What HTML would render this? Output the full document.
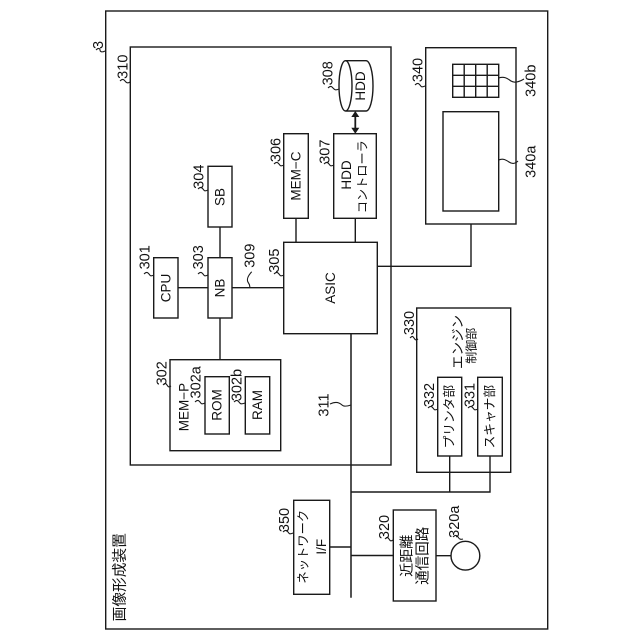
<!DOCTYPE html>
<html><head><meta charset="utf-8"><style>
html,body{margin:0;padding:0;background:#fff}
svg{display:block}
text{font-family:"Liberation Sans","Noto Sans CJK JP",sans-serif;fill:#111;text-anchor:middle;dominant-baseline:central;font-size:13.5px}
.n{font-size:14.5px}
rect,path.l,circle,line{fill:none;stroke:#1a1a1a;stroke-width:1.4}
path.s{fill:none;stroke:#1a1a1a;stroke-width:1.1}
</style></head><body>
<svg width="640" height="640" viewBox="0 0 640 640" xmlns="http://www.w3.org/2000/svg">
<rect x="105.7" y="11" width="442" height="618"/>
<rect x="130.3" y="47" width="260.7" height="418"/>
<rect x="153.7" y="257.7" width="24.3" height="60.3"/>
<rect x="208" y="257.7" width="24" height="60.3"/>
<rect x="208" y="166.3" width="24" height="60.7"/>
<rect x="283.7" y="133.7" width="24.6" height="84.6"/>
<rect x="333.7" y="133.7" width="42.6" height="84.6"/>
<rect x="283.7" y="242.3" width="93.6" height="91.4"/>
<path class="l" d="M345.5 60.7H366A7 25.15 0 0 1 366 111H345.5A6.5 25.15 0 0 1 345.5 60.7A6.5 25.15 0 0 1 345.5 111"/>
<path class="l" style="stroke-width:1.8" d="M355.3 114V131"/>
<path d="M355.3 111l-4 6h8zM355.3 133.7l-4-6h8z" fill="#1a1a1a"/>
<path class="l" d="M178 287.7H208M232 287.7H283.7M220 227V257.7M220 318V359.7M296 218.3V242.3M355.3 218.3V242.3"/>
<path class="l" d="M377.3 266.3H471V224"/>
<rect x="425.7" y="47.7" width="90.3" height="176.3"/>
<rect x="443" y="111.7" width="55.7" height="99.3"/>
<rect x="452.7" y="64.3" width="46" height="33"/>
<path class="l" d="M464.2 64.3V97.3M475.7 64.3V97.3M487.2 64.3V97.3M452.7 75.3H498.7M452.7 86.3H498.7"/>
<rect x="170" y="359.7" width="110.7" height="91"/>
<rect x="205" y="376.7" width="24.3" height="57.3"/>
<rect x="245.3" y="376.7" width="24.4" height="57.3"/>
<path class="l" style="stroke-width:1.5" d="M351 333.7V597.7"/>
<path class="l" d="M351 492H490V456M449.7 492V456"/>
<rect x="416.7" y="308" width="94" height="164.3"/>
<rect x="437.7" y="377.3" width="24" height="78.7"/>
<rect x="477.7" y="377.3" width="24.6" height="78.7"/>
<rect x="293.7" y="500.3" width="36" height="94"/>
<path class="l" d="M329.7 547H351M351 555.5H393.3M436 555.7H451"/>
<rect x="393.3" y="510" width="42.7" height="91"/>
<circle cx="465.4" cy="555.7" r="14.4"/>

<!-- leader squiggles -->
<path class="s" d="M96 50c3-3 4-1 4 0s1 3 5 1"/>
<path class="s" d="M120 81c3-3 4-1 5 0s2 3 5 1"/>
<path class="s" d="M328 88c3-3 4-1 5 0s2 3 6 1"/>
<path class="s" d="M274 164c3-3 4-1 5 0s1 3 5 1"/>
<path class="s" d="M324 164c3-3 4-1 5 0s1 3 5 1"/>
<path class="s" d="M198 189c3-3 4-1 5 0s1 3 5 1"/>
<path class="s" d="M144 274c3-3 4-1 5 0s1 3 5 1"/>
<path class="s" d="M198 274c3-3 4-1 5 0s1 3 5 1"/>
<path class="s" d="M274 274c3-3 4-1 5 0s1 3 5 1"/>
<path class="s" d="M163 385c3-3 3-1 4 0s1 3 4 1"/>
<path class="s" d="M195 402c3-3 4-1 5 0s1 3 5 1"/>
<path class="s" d="M234 402c3-3 4-1 5 0s1 3 6 1"/>
<path class="s" d="M283 532c3-3 4-1 5 0s1 3 5 1"/>
<path class="s" d="M385 539c3-3 3-1 4 0s1 3 4 1"/>
<path class="s" d="M453 537c3-3 4-1 5 0s1 3 5 2"/>
<path class="s" d="M410 338c3-3 3-1 4 0s1 3 4 1"/>
<path class="s" d="M428 408c3-3 4-1 5 0s1 3 5 1"/>
<path class="s" d="M468 408c3-3 4-1 5 0s1 3 5 1"/>
<path class="s" d="M415 85c3-3 4-1 5 0s1 3 5 1"/>
<path class="s" d="M251.7 271.7C246 278 247 281 248.500 283S249.500 286 250 288"/>
<path class="s" d="M330 404C336 401 340 403 342 405S348 406 351 405"/>
<path class="s" d="M498.700 78C505 76 508 79 511 81S519 82 524 79"/>
<path class="s" d="M498.700 160C503 158 506 160 509 162S515 164 518 161"/>

<!-- labels -->
<text transform="rotate(-90 99 45)" x="99" y="45" class="n">3</text>
<text transform="rotate(-90 123.300 66.700)" x="123.300" y="66.700" class="n">310</text>
<text transform="rotate(-90 328.300 73.300)" x="328.300" y="73.300" class="n">308</text>
<text transform="rotate(-90 276.700 150)" x="276.700" y="150" class="n">306</text>
<text transform="rotate(-90 325.700 151.700)" x="325.700" y="151.700" class="n">307</text>
<text transform="rotate(-90 199.300 176.700)" x="199.300" y="176.700" class="n">304</text>
<text transform="rotate(-90 145.700 257.300)" x="145.700" y="257.300" class="n">301</text>
<text transform="rotate(-90 199 257.300)" x="199" y="257.300" class="n">303</text>
<text transform="rotate(-90 250.700 255.700)" x="250.700" y="255.700" class="n">309</text>
<text transform="rotate(-90 275 260.700)" x="275" y="260.700" class="n">305</text>
<text transform="rotate(-90 162.300 373.300)" x="162.300" y="373.300" class="n">302</text>
<text transform="rotate(-90 196.700 382.300)" x="196.700" y="382.300" class="n">302a</text>
<text transform="rotate(-90 237.300 385)" x="237.300" y="385" class="n">302b</text>
<text transform="rotate(-90 324.300 405)" x="324.300" y="405" class="n">311</text>
<text transform="rotate(-90 285 520)" x="285" y="520" class="n">350</text>
<text transform="rotate(-90 385 527)" x="385" y="527" class="n">320</text>
<text transform="rotate(-90 455 521.700)" x="455" y="521.700" class="n">320a</text>
<text transform="rotate(-90 410 323)" x="410" y="323" class="n">330</text>
<text transform="rotate(-90 430 395)" x="430" y="395" class="n">332</text>
<text transform="rotate(-90 470.700 395)" x="470.700" y="395" class="n">331</text>
<text transform="rotate(-90 418.300 70)" x="418.300" y="70" class="n">340</text>
<text transform="rotate(-90 531.700 80.700)" x="531.700" y="80.700" class="n">340b</text>
<text transform="rotate(-90 531.700 161.700)" x="531.700" y="161.700" class="n">340a</text>

<text transform="rotate(-90 166 288)" x="166" y="288">CPU</text>
<text transform="rotate(-90 220 288)" x="220" y="288">NB</text>
<text transform="rotate(-90 220 197)" x="220" y="197">SB</text>
<text transform="rotate(-90 296 176)" x="296" y="176">MEM−C</text>
<text transform="rotate(-90 330.500 288)" x="330.500" y="288">ASIC</text>
<text transform="rotate(-90 360.700 86)" x="360.700" y="86">HDD</text>
<text transform="rotate(-90 346.700 175)" x="346.700" y="175">HDD</text>
<text transform="rotate(-90 362.300 176.700)" x="362.300" y="176.700" style="font-size:12.200px">コントローラ</text>
<text transform="rotate(-90 184 407)" x="184" y="407">MEM−P</text>
<text transform="rotate(-90 217 405)" x="217" y="405">ROM</text>
<text transform="rotate(-90 257.500 405)" x="257.500" y="405">RAM</text>
<text transform="rotate(-90 303.300 546.700)" x="303.300" y="546.700" style="font-size:12.300px">ネットワーク</text>
<text transform="rotate(-90 321.700 546.700)" x="321.700" y="546.700">I/F</text>
<text transform="rotate(-90 406.700 555.700)" x="406.700" y="555.700" style="font-size:14px">近距離</text>
<text transform="rotate(-90 423.300 555.700)" x="423.300" y="555.700" style="font-size:14.500px">通信回路</text>
<text transform="rotate(-90 458 342)" x="458" y="342">エンジン</text>
<text transform="rotate(-90 471.700 345.700)" x="471.700" y="345.700" style="font-size:12px">制御部</text>
<text transform="rotate(-90 449.700 416.700)" x="449.700" y="416.700" style="font-size:12.700px">プリンタ部</text>
<text transform="rotate(-90 490 416.700)" x="490" y="416.700" style="font-size:12.700px">スキャナ部</text>
<text transform="rotate(-90 120.700 577.300)" x="120.700" y="577.300" style="font-size:14.700px">画像形成装置</text>
</svg>
</body></html>
